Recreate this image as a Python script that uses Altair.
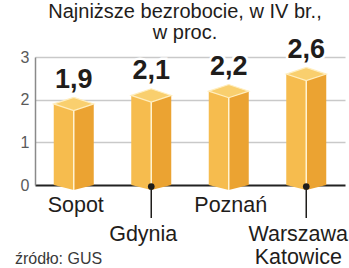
import altair as alt
import pandas as pd

# ---- data ----
categories = ["Sopot", "Gdynia", "Poznań", "Warszawa\nKatowice"]
values = [1.9, 2.1, 2.2, 2.6]
value_labels = ["1,9", "2,1", "2,2", "2,6"]
lower_row = ["Gdynia", "Warszawa\nKatowice"]
y_ticks = [0, 1, 2, 3]
title_lines = ["Najniższe bezrobocie, w IV br.,", "w proc."]
source_text = "źródło: GUS"

df = pd.DataFrame({"miasto": categories, "stopa": values, "etykieta": value_labels})

FONT = "Liberation Sans"
TOP = "#F9CF6E"
LEFT = "#F6BC4E"
RIGHT = "#EBA332"
INK = "#1f1d1b"

x = alt.X("miasto:N", sort=categories,
          scale=alt.Scale(paddingInner=0, paddingOuter=0), axis=None)
y_axis = alt.Axis(
    values=y_ticks, title=None, ticks=False, labelFont=FONT, labelFontSize=16,
    labelColor="#5a5a5a", labelPadding=6, domainColor="#8a8a8a", domainWidth=1.5,
    gridColor=alt.condition("datum.value == 0", alt.value("#222222"), alt.value("#c9c9c9")),
    gridWidth=alt.condition("datum.value == 0", alt.value(2), alt.value(1.5)),
)
y = alt.Y("stopa:Q", scale=alt.Scale(domain=[0, 3], nice=False), axis=y_axis)
yv = alt.Y("stopa:Q")

base = alt.Chart(df).encode(x=x)

left_face = base.mark_bar(width=20, xOffset=-10, color=LEFT).encode(y=y)
right_face = base.mark_bar(width=20, xOffset=10, color=RIGHT).encode(y=yv)
left_v = base.mark_point(shape="M-1,0L0,0L0,0.25Z", size=1600, filled=True,
                         color=LEFT, opacity=1, strokeWidth=0).encode(y=alt.datum(0))
right_v = base.mark_point(shape="M0,0L1,0L0,0.25Z", size=1600, filled=True,
                          color=RIGHT, opacity=1, strokeWidth=0).encode(y=alt.datum(0))
edge = base.mark_rule(color="#FFF3D2", strokeWidth=1.5, yOffset=6.5, y2Offset=5).encode(
    y=yv, y2=alt.datum(0))
cap = base.mark_point(shape="M-1,0L0,-0.33L1,0L0,0.33Z", size=1600, filled=True,
                      fill=TOP, stroke="#FFEEBF", strokeWidth=1.2, opacity=1,
                      strokeOpacity=1).encode(y=yv)

halo = base.mark_text(font=FONT, fontSize=27, fontWeight="bold", dy=-16,
                      baseline="alphabetic", color="white", stroke="white",
                      strokeWidth=5).encode(y=yv, text="etykieta:N")
vals = base.mark_text(font=FONT, fontSize=27, fontWeight="bold", dy=-16,
                      baseline="alphabetic", color=INK).encode(y=yv, text="etykieta:N")

lower = base.transform_filter(alt.FieldOneOfPredicate(field="miasto", oneOf=lower_row))
upper = base.transform_filter(~alt.FieldOneOfPredicate(field="miasto", oneOf=lower_row))

leaders = lower.mark_rule(color=INK, strokeWidth=1.5).encode(
    y=alt.datum(0), y2=alt.value(161))
dots = lower.mark_point(filled=True, color=INK, size=45, opacity=1, yOffset=1.5).encode(
    y=alt.datum(0))
upper_lbl = upper.mark_text(font=FONT, fontSize=21.5, color=INK, baseline="alphabetic",
                            dx=2).encode(text="miasto:N", y=alt.value(155))
lower_lbl = lower.mark_text(font=FONT, fontSize=21.5, color=INK, baseline="alphabetic",
                            dx=-8, lineBreak="\n", lineHeight=22.5).encode(
    text="miasto:N", y=alt.value(184))

source = alt.Chart(pd.DataFrame({"t": [source_text]})).mark_text(
    font=FONT, fontSize=16, color="#3a3a3a", align="left", baseline="alphabetic"
).encode(text="t:N", x=alt.value(-20), y=alt.value(207))

chart = alt.layer(
    left_face, right_face, left_v, right_v, edge, cap, halo, vals,
    leaders, dots, upper_lbl, lower_lbl, source
).properties(
    width=310, height=128,
    padding={"left": 35, "top": 57, "right": 4, "bottom": 83},
    autosize=alt.AutoSizeParams(type="none"),
    title=alt.TitleParams(text=title_lines, font=FONT, fontSize=20, fontWeight="normal",
                          color=INK, lineHeight=21, anchor="middle", dx=-5, offset=-7),
    background="white",
).configure_view(stroke=None)

chart.save("out.html", embed_options={"renderer": "svg", "actions": False})
